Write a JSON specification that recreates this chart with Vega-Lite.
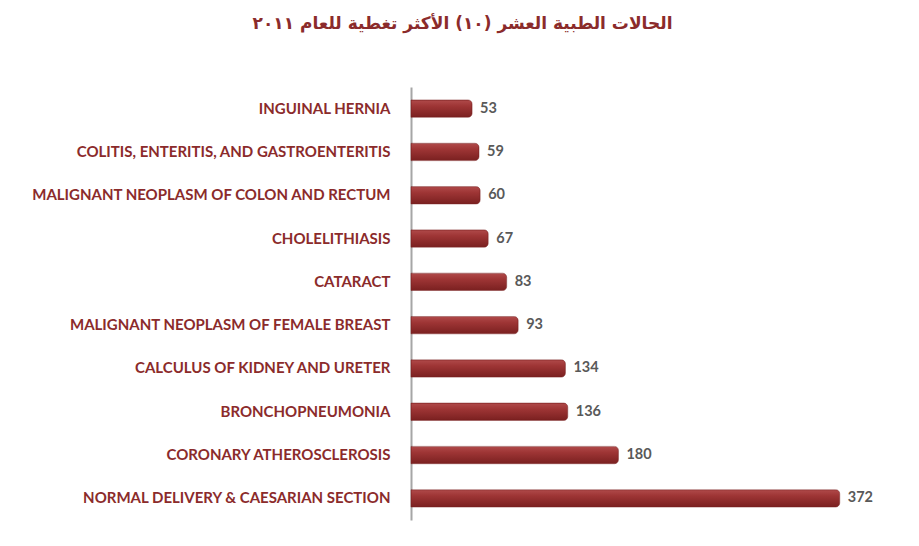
{
  "$schema": "https://vega.github.io/schema/vega-lite/v6.json",
  "autosize": {"type": "none"},
  "width": 461,
  "height": 433,
  "padding": {"left": 411, "top": 87, "right": 47, "bottom": 26},
  "background": "white",
  "config": {"view": {"stroke": null}},
  "title": {
    "text": "الحالات الطبية العشر (١٠) الأكثر تغطية للعام ٢٠١١",
    "font": "DejaVu Sans",
    "fontSize": 17,
    "fontWeight": "bold",
    "color": "#8B2B2B",
    "anchor": "middle",
    "dx": -179,
    "offset": 54
  },
  "data": {
    "values": [
      {"condition": "INGUINAL HERNIA", "cases": 53},
      {"condition": "COLITIS, ENTERITIS, AND GASTROENTERITIS", "cases": 59},
      {"condition": "MALIGNANT NEOPLASM OF COLON AND RECTUM", "cases": 60},
      {"condition": "CHOLELITHIASIS", "cases": 67},
      {"condition": "CATARACT", "cases": 83},
      {"condition": "MALIGNANT NEOPLASM OF FEMALE BREAST", "cases": 93},
      {"condition": "CALCULUS OF KIDNEY AND URETER", "cases": 134},
      {"condition": "BRONCHOPNEUMONIA", "cases": 136},
      {"condition": "CORONARY ATHEROSCLEROSIS", "cases": 180},
      {"condition": "NORMAL DELIVERY & CAESARIAN SECTION", "cases": 372}
    ]
  },
  "encoding": {
    "y": {
      "field": "condition",
      "type": "nominal",
      "sort": null,
      "title": null,
      "scale": {"paddingInner": 0.6, "paddingOuter": 0.3},
      "axis": {
        "domain": true,
        "domainColor": "#A6A6A6",
        "domainWidth": 2,
        "ticks": false,
        "labelPadding": 21,
        "labelFont": "Lato",
        "labelFontSize": 15,
        "labelFontWeight": "bold",
        "labelColor": "#8B2B2B",
        "labelLimit": 400
      }
    },
    "x": {
      "field": "cases",
      "type": "quantitative",
      "scale": {"domain": [0, 400]},
      "axis": null
    }
  },
  "layer": [
    {
      "mark": {
        "type": "bar",
        "cornerRadiusEnd": 4,
        "stroke": "#7A2222",
        "strokeWidth": 0.5,
        "color": {
          "gradient": "linear",
          "x1": 0, "y1": 0, "x2": 0, "y2": 1,
          "stops": [
            {"offset": 0, "color": "#B04A4A"},
            {"offset": 0.35, "color": "#9E3535"},
            {"offset": 1, "color": "#7A2020"}
          ]
        }
      }
    },
    {
      "mark": {
        "type": "text",
        "align": "left",
        "dx": 8,
        "font": "Lato",
        "fontSize": 14.5,
        "fontWeight": "bold",
        "color": "#595959"
      },
      "encoding": {"text": {"field": "cases", "type": "quantitative"}}
    }
  ]
}
